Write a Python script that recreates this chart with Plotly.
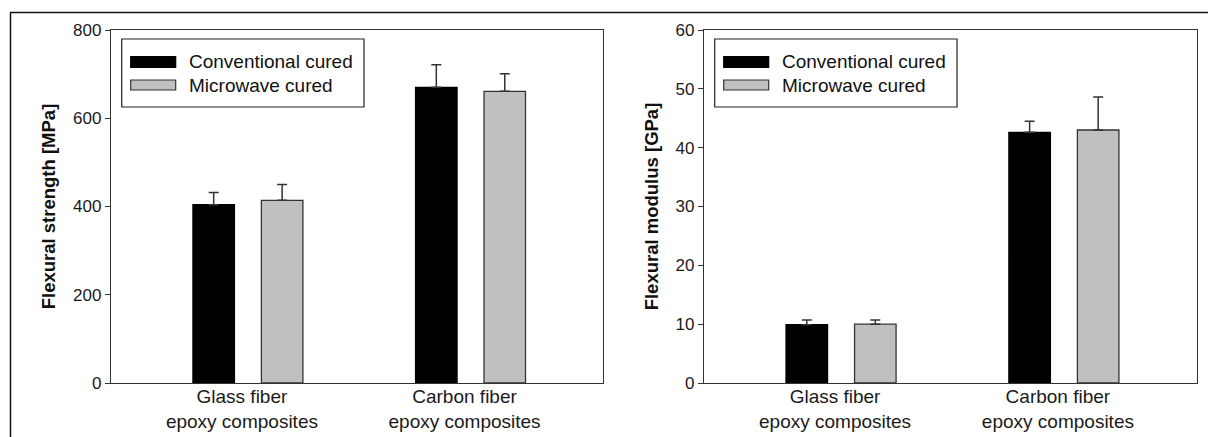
import plotly.graph_objects as go

# ---------------- data ----------------
categories = ["Glass fiber<br>epoxy composites", "Carbon fiber<br>epoxy composites"]
series_names = ["Conventional cured", "Microwave cured"]

strength_conv = [404, 670]
strength_conv_err = [28, 51]
strength_micro = [414, 661]
strength_micro_err = [36, 40]

modulus_conv = [9.9, 42.6]
modulus_conv_err = [0.8, 1.9]
modulus_micro = [10.0, 43.0]
modulus_micro_err = [0.7, 5.6]

strength_ticks = [0, 200, 400, 600, 800]
modulus_ticks = [0, 10, 20, 30, 40, 50, 60]

# ---------------- styling ----------------
W, H = 1208, 437
FONT = "Liberation Sans, Arial, sans-serif"
fills = ["#000000", "#c0c0c0"]
outline = "#333333"
axis_col = "#333333"


def px(x):
    return x / W


def py(y):
    return 1 - y / H


xpos = list(range(len(categories)))

fig = go.Figure()

panels = [
    ("x", "y", [strength_conv, strength_micro], [strength_conv_err, strength_micro_err]),
    ("x2", "y2", [modulus_conv, modulus_micro], [modulus_conv_err, modulus_micro_err]),
]
for xa, ya, vals, errs in panels:
    for i, name in enumerate(series_names):
        fig.add_trace(go.Bar(
            x=xpos, y=vals[i], name=name, xaxis=xa, yaxis=ya,
            marker=dict(color=fills[i], line=dict(color=outline if i else "#000000", width=1.3)),
            error_y=dict(type="data", symmetric=False, array=errs[i],
                         arrayminus=[0] * len(errs[i]),
                         color=outline, thickness=1.5, width=5),
            showlegend=False,
        ))

# plot-area pixel boxes
left_box = (111, 603)
right_box = (704, 1196.5)
top_px, bot_px = 30, 383

common_x = dict(
    range=[-0.615, 1.595], tickmode="array", tickvals=xpos, ticktext=categories,
    showline=True, linecolor=axis_col, linewidth=1.3, mirror=True,
    ticks="", showgrid=False, zeroline=False, fixedrange=True, automargin=False,
    tickfont=dict(family=FONT, size=19, color="#1a1a1a"),
    ticklabelshift=-6, ticklabelstandoff=-4,
)
common_y = dict(
    showline=True, linecolor=axis_col, linewidth=1.3, mirror=True,
    ticks="outside", ticklen=5, tickcolor=axis_col, tickwidth=1.3,
    showgrid=False, zeroline=False, fixedrange=True, automargin=False,
    tickfont=dict(family=FONT, size=17, color="#1a1a1a"),
)

fig.update_layout(
    template="none",
    width=W, height=H, autosize=False,
    margin=dict(l=0, r=0, t=0, b=0, pad=0),
    paper_bgcolor="white", plot_bgcolor="white",
    barmode="group", bargap=0.385, bargroupgap=0.394,
    showlegend=False,
    xaxis=dict(domain=[px(left_box[0]), px(left_box[1])], anchor="y", **common_x),
    xaxis2=dict(domain=[px(right_box[0]), px(right_box[1])], anchor="y2", **common_x),
    yaxis=dict(domain=[py(bot_px), py(top_px)], anchor="x", range=[0, 800],
               tickvals=strength_ticks,
               title=dict(text="Flexural strength [MPa]", standoff=12,
                          font=dict(family=FONT, size=18.5, weight="bold", color="#111")),
               **common_y),
    yaxis2=dict(domain=[py(bot_px), py(top_px)], anchor="x2", range=[0, 60],
                tickvals=modulus_ticks,
                title=dict(text="Flexural modulus [GPa]", standoff=12,
                           font=dict(family=FONT, size=18.5, weight="bold", color="#111")),
                **common_y),
)

shapes = []
annotations = []

# outer frame (top and left edges of the figure border)
shapes.append(dict(type="line", xref="paper", yref="paper", x0=px(10), x1=1.0,
                   y0=py(12.5), y1=py(12.5), line=dict(color="#111", width=1.5)))
shapes.append(dict(type="line", xref="paper", yref="paper", x0=px(10.5), x1=px(10.5),
                   y0=py(12.5), y1=0, line=dict(color="#111", width=1.5)))

# legends (one per panel)
for x0 in (left_box[0], right_box[0]):
    bx0, bx1 = x0 + 10.7, x0 + 253
    shapes.append(dict(type="rect", xref="paper", yref="paper",
                       x0=px(bx0), x1=px(bx1), y0=py(107), y1=py(39),
                       line=dict(color="#222", width=1.2), fillcolor="white", layer="above"))
    rows = [(56.7, 67.3, 61.7), (80, 90, 85)]
    for i, (ya0, ya1, yc) in enumerate(rows):
        shapes.append(dict(type="rect", xref="paper", yref="paper",
                           x0=px(x0 + 19.7), x1=px(x0 + 64.7), y0=py(ya1), y1=py(ya0),
                           line=dict(color="#000000" if i == 0 else outline, width=1.2),
                           fillcolor=fills[i], layer="above"))
        annotations.append(dict(xref="paper", yref="paper", x=px(x0 + 75.5), y=py(yc),
                                text=series_names[i], showarrow=False,
                                xanchor="left", yanchor="middle",
                                font=dict(family=FONT, size=19, color="#111")))

fig.update_layout(shapes=shapes, annotations=annotations)

fig.write_html(
    "out.html",
    config={"displayModeBar": False},
    post_script="document.body.style.margin='0';document.body.style.overflow='hidden';",
)
